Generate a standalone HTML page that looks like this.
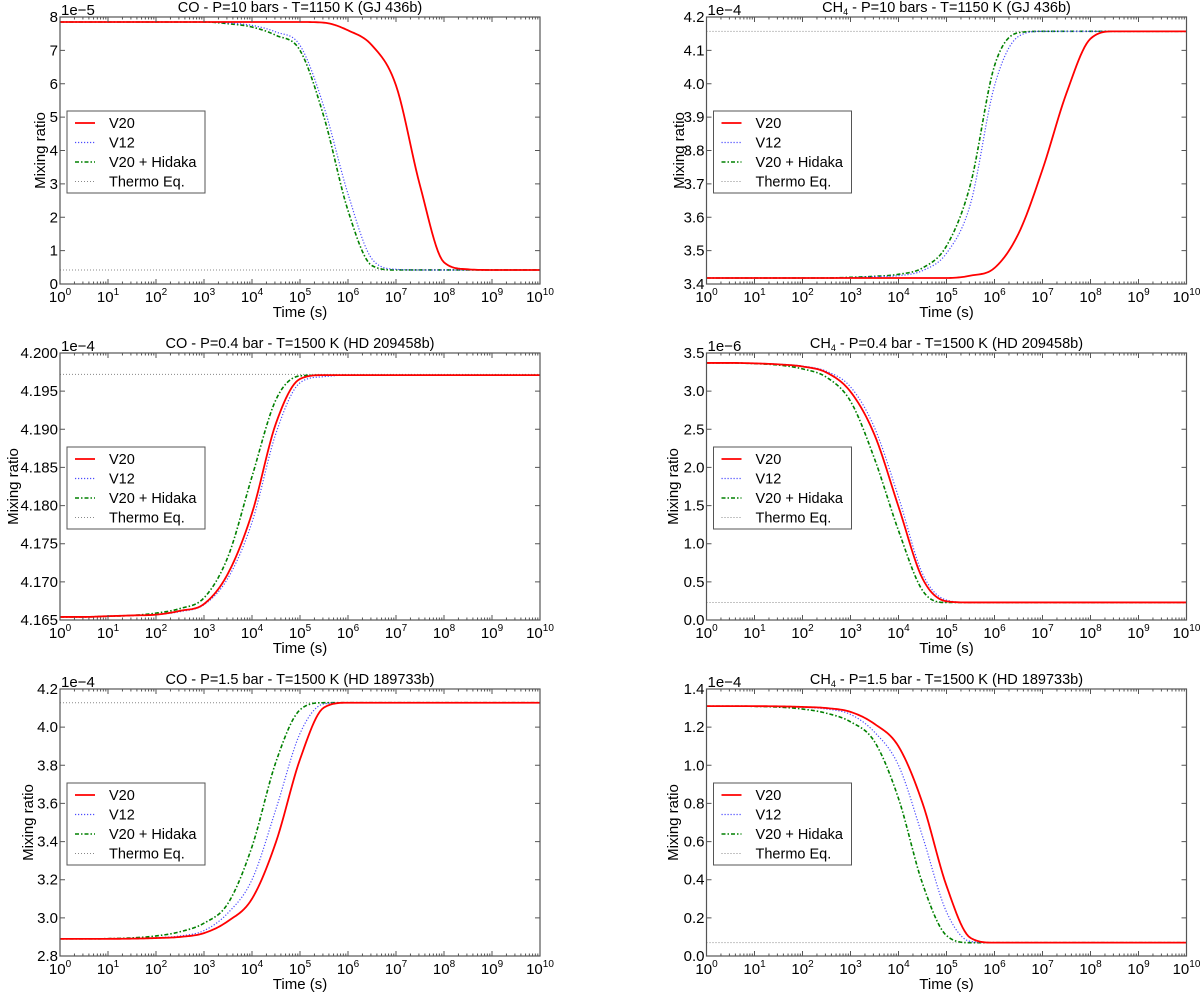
<!DOCTYPE html>
<html><head><meta charset="utf-8">
<style>
html,body{margin:0;padding:0;background:#fff;}
svg{display:block;font-family:"Liberation Sans",sans-serif;}
</style></head>
<body>
<svg id="fig" width="1200" height="992" viewBox="0 0 1200 992" xmlns="http://www.w3.org/2000/svg"></svg>
<script>
// ---- shared x data (log10 time, s) ----
const logTime = [0,0.5,1,1.5,2,2.5,3,3.5,4,4.5,5,5.5,6,6.5,7,7.5,8,8.5,9,9.5,10];
const xTickLabels = ["0","1","2","3","4","5","6","7","8","9","10"];

// ---- panel 1: CO 10 bar (1e-5) ----
const p1V20 = [7.85,7.85,7.85,7.85,7.85,7.85,7.85,7.85,7.85,7.85,7.85,7.83,7.6,7.15,5.95,2.95,0.65,0.44,0.42,0.42,0.42];
const p1V12 = [7.85,7.85,7.85,7.85,7.85,7.85,7.85,7.82,7.75,7.55,7.15,5.3,2.7,0.75,0.44,0.42,0.42,0.42,0.42,0.42,0.42];
const p1Hid = [7.85,7.85,7.85,7.85,7.85,7.85,7.85,7.8,7.7,7.45,7.0,5.0,2.2,0.55,0.42,0.42,0.42,0.42,0.42,0.42,0.42];
const p1Thermo = 0.42;
const p1YTicks = ["0","1","2","3","4","5","6","7","8"];

// ---- panel 2: CH4 10 bar (1e-4) ----
const p2V20 = [3.418,3.418,3.418,3.418,3.418,3.418,3.418,3.418,3.418,3.418,3.418,3.425,3.448,3.551,3.743,3.972,4.135,4.157,4.157,4.157,4.157];
const p2V12 = [3.418,3.418,3.418,3.418,3.418,3.418,3.419,3.422,3.425,3.440,3.492,3.640,3.994,4.142,4.157,4.157,4.157,4.157,4.157,4.157,4.157];
const p2Hid = [3.418,3.418,3.418,3.418,3.418,3.418,3.420,3.423,3.429,3.448,3.514,3.699,4.054,4.153,4.157,4.157,4.157,4.157,4.157,4.157,4.157];
const p2Thermo = 4.157;
const p2YTicks = ["3.4","3.5","3.6","3.7","3.8","3.9","4.0","4.1","4.2"];

// ---- panel 3: CO 0.4 bar (1e-4) ----
const p3V20 = [4.1654,4.1654,4.1655,4.1656,4.1657,4.1662,4.1671,4.1711,4.1790,4.1908,4.1966,4.1971,4.1971,4.1971,4.1971,4.1971,4.1971,4.1971,4.1971,4.1971,4.1971];
const p3V12 = [4.1654,4.1654,4.1655,4.1656,4.1657,4.1661,4.1670,4.1705,4.1778,4.1895,4.1961,4.1969,4.1971,4.1971,4.1971,4.1971,4.1971,4.1971,4.1971,4.1971,4.1971];
const p3Hid = [4.1654,4.1654,4.1655,4.1656,4.1659,4.1665,4.1679,4.1733,4.1838,4.1939,4.1970,4.1971,4.1971,4.1971,4.1971,4.1971,4.1971,4.1971,4.1971,4.1971,4.1971];
const p3Thermo = 4.1972;
const p3YTicks = ["4.165","4.170","4.175","4.180","4.185","4.190","4.195","4.200"];

// ---- panel 4: CH4 0.4 bar (1e-6) ----
const p4V20 = [3.37,3.37,3.364,3.351,3.323,3.244,2.993,2.428,1.486,0.544,0.246,0.23,0.23,0.23,0.23,0.23,0.23,0.23,0.23,0.23,0.23];
const p4V12 = [3.37,3.37,3.364,3.354,3.329,3.260,3.056,2.522,1.612,0.607,0.261,0.23,0.23,0.23,0.23,0.23,0.23,0.23,0.23,0.23,0.23];
const p4Hid = [3.37,3.37,3.361,3.342,3.292,3.182,2.868,2.114,1.172,0.387,0.23,0.23,0.23,0.23,0.23,0.23,0.23,0.23,0.23,0.23,0.23];
const p4Thermo = 0.23;
const p4YTicks = ["0.0","0.5","1.0","1.5","2.0","2.5","3.0","3.5"];

// ---- panel 5: CO 1.5 bar (1e-4) ----
const p5V20 = [2.89,2.89,2.89,2.891,2.894,2.900,2.920,2.983,3.100,3.398,3.831,4.103,4.128,4.128,4.128,4.128,4.128,4.128,4.128,4.128,4.128];
const p5V12 = [2.89,2.89,2.89,2.892,2.896,2.905,2.933,3.026,3.200,3.571,3.967,4.122,4.128,4.128,4.128,4.128,4.128,4.128,4.128,4.128,4.128];
const p5Hid = [2.89,2.89,2.891,2.895,2.905,2.927,2.972,3.076,3.373,3.819,4.091,4.128,4.128,4.128,4.128,4.128,4.128,4.128,4.128,4.128,4.128];
const p5Thermo = 4.128;
const p5YTicks = ["2.8","3.0","3.2","3.4","3.6","3.8","4.0","4.2"];

// ---- panel 6: CH4 1.5 bar (1e-4) ----
const p6V20 = [1.31,1.31,1.31,1.309,1.306,1.300,1.280,1.217,1.099,0.802,0.368,0.095,0.07,0.07,0.07,0.07,0.07,0.07,0.07,0.07,0.07];
const p6V12 = [1.31,1.31,1.31,1.308,1.304,1.295,1.267,1.174,1.000,0.628,0.231,0.076,0.07,0.07,0.07,0.07,0.07,0.07,0.07,0.07,0.07];
const p6Hid = [1.31,1.31,1.309,1.305,1.295,1.273,1.228,1.124,0.826,0.38,0.107,0.07,0.07,0.07,0.07,0.07,0.07,0.07,0.07,0.07,0.07];
const p6Thermo = 0.07;
const p6YTicks = ["0.0","0.2","0.4","0.6","0.8","1.0","1.2","1.4"];

const NS = "http://www.w3.org/2000/svg";
const svg = document.getElementById('fig');
function mk(tag, parent){ const e=document.createElementNS(NS,tag); parent.appendChild(e); return e; }

const panels = [
  {id:'co-10bar', species:'CO', rest:' - P=10 bars - T=1150 K (GJ 436b)', left:60, top:17, ymin:0, ymax:8, ticks:p1YTicks, off:'1e\u22125', v20:p1V20, v12:p1V12, hid:p1Hid, th:p1Thermo, ylabX:40},
  {id:'ch4-10bar', species:'CH', sub:'4', rest:' - P=10 bars - T=1150 K (GJ 436b)', left:706.5, top:17, ymin:3.4, ymax:4.2, ticks:p2YTicks, off:'1e\u22124', v20:p2V20, v12:p2V12, hid:p2Hid, th:p2Thermo, ylabX:679},
  {id:'co-0.4bar', species:'CO', rest:' - P=0.4 bar - T=1500 K (HD 209458b)', left:60, top:353, ymin:4.165, ymax:4.200, ticks:p3YTicks, off:'1e\u22124', v20:p3V20, v12:p3V12, hid:p3Hid, th:p3Thermo, ylabX:13},
  {id:'ch4-0.4bar', species:'CH', sub:'4', rest:' - P=0.4 bar - T=1500 K (HD 209458b)', left:706.5, top:353, ymin:0, ymax:3.5, ticks:p4YTicks, off:'1e\u22126', v20:p4V20, v12:p4V12, hid:p4Hid, th:p4Thermo, ylabX:673},
  {id:'co-1.5bar', species:'CO', rest:' - P=1.5 bar - T=1500 K (HD 189733b)', left:60, top:689, ymin:2.8, ymax:4.2, ticks:p5YTicks, off:'1e\u22124', v20:p5V20, v12:p5V12, hid:p5Hid, th:p5Thermo, ylabX:28},
  {id:'ch4-1.5bar', species:'CH', sub:'4', rest:' - P=1.5 bar - T=1500 K (HD 189733b)', left:706.5, top:689, ymin:0, ymax:1.4, ticks:p6YTicks, off:'1e\u22124', v20:p6V20, v12:p6V12, hid:p6Hid, th:p6Thermo, ylabX:673}
];
const W = 480, H = 267;
const series = [
  {key:'v20', label:'V20', color:'#ff0000', width:1.8, dash:null},
  {key:'v12', label:'V12', color:'#4a4aff', width:1.2, dash:'1.2,1.8'},
  {key:'hid', label:'V20 + Hidaka', color:'#008000', width:1.6, dash:'4,2,1.5,2'},
  {key:'th', label:'Thermo Eq.', color:'#888888', width:1, dash:'1,2'}
];

function monotone(xs, ys){
  const n=xs.length, d=[], m=new Array(n).fill(0);
  for(let i=0;i<n-1;i++) d.push((ys[i+1]-ys[i])/(xs[i+1]-xs[i]));
  m[0]=d[0]; m[n-1]=d[n-2];
  for(let i=1;i<n-1;i++){ m[i] = (d[i-1]*d[i]<=0)?0:(d[i-1]+d[i])/2; }
  for(let i=0;i<n-1;i++){
    if(d[i]===0){m[i]=0;m[i+1]=0;continue;}
    const a=m[i]/d[i], b=m[i+1]/d[i], s=a*a+b*b;
    if(s>9){const t=3/Math.sqrt(s); m[i]=t*a*d[i]; m[i+1]=t*b*d[i];}
  }
  const out=[];
  for(let i=0;i<n-1;i++){
    const h=xs[i+1]-xs[i];
    for(let k=0;k<12;k++){
      const t=k/12, t2=t*t, t3=t2*t;
      const y=(2*t3-3*t2+1)*ys[i]+(t3-2*t2+t)*h*m[i]+(-2*t3+3*t2)*ys[i+1]+(t3-t2)*h*m[i+1];
      out.push([xs[i]+t*h,y]);
    }
  }
  out.push([xs[n-1],ys[n-1]]);
  return out;
}

panels.forEach((p,pi)=>{
  const g = mk('g', svg);
  
  
  const L=p.left, T=p.top, B=T+H, R=L+W;
  const xs = v => L + (v-0)/10*W;
  const ys = v => B - (v-p.ymin)/(p.ymax-p.ymin)*H;

  // clip
  const cp = mk('clipPath', g); cp.setAttribute('id','clip'+pi);
  const cr = mk('rect', cp); cr.setAttribute('x',L); cr.setAttribute('y',T); cr.setAttribute('width',W); cr.setAttribute('height',H);

  // thermo line
  const thl = mk('line', g);
  
  
  thl.setAttribute('x1',L); thl.setAttribute('x2',R); thl.setAttribute('y1',ys(p.th)); thl.setAttribute('y2',ys(p.th));
  thl.setAttribute('stroke','#888'); thl.setAttribute('stroke-width','1'); thl.setAttribute('stroke-dasharray','1,2');

  // curves
  series.slice(0,3).slice().reverse().forEach(s=>{
    const pts = monotone(logTime, p[s.key]);
    const path = mk('path', g);
    
    
    path.setAttribute('d', pts.map((q,i)=>(i?'L':'M')+xs(q[0]).toFixed(2)+','+ys(q[1]).toFixed(2)).join(''));
    path.setAttribute('fill','none'); path.setAttribute('stroke',s.color); path.setAttribute('stroke-width',s.width);
    if(s.dash) path.setAttribute('stroke-dasharray',s.dash);
    path.setAttribute('clip-path','url(#clip'+pi+')');
  });

  // ticks
  const tk = mk('g', g);
  
  
  let d='';
  for(let dec=0; dec<=10; dec++){
    const x=xs(dec);
    d+=`M${x},${B}v-5M${x},${T}v5`;
    if(dec<10) for(let k=2;k<10;k++){ const xm=xs(dec+Math.log10(k)); d+=`M${xm},${B}v-2.5M${xm},${T}v2.5`; }
  }
  p.ticks.forEach((t,i)=>{ const y=ys(parseFloat(t)); d+=`M${L},${y}h5M${R},${y}h-5`; });
  const tp = mk('path', tk); tp.setAttribute('d',d); tp.setAttribute('stroke','#555'); tp.setAttribute('stroke-width','1'); tp.setAttribute('fill','none');

  // frame
  const fr = mk('rect', g);
  
  
  fr.setAttribute('x',L); fr.setAttribute('y',T); fr.setAttribute('width',W); fr.setAttribute('height',H);
  fr.setAttribute('fill','none'); fr.setAttribute('stroke','#555'); fr.setAttribute('stroke-width','1.2');

  // x tick labels
  xTickLabels.forEach((lab,i)=>{
    const t = mk('text', g);
    
    
    t.setAttribute('x', xs(i)); t.setAttribute('y', B+18); t.setAttribute('font-size','15'); t.setAttribute('text-anchor','middle');
    t.textContent='10';
    const sp = mk('tspan', t); sp.setAttribute('dy','-7'); sp.setAttribute('font-size','10'); sp.textContent=lab;
  });
  // y tick labels
  p.ticks.forEach(lab=>{
    const t = mk('text', g);
    
    
    t.setAttribute('x', L-2); t.setAttribute('y', ys(parseFloat(lab))+5); t.setAttribute('font-size','15'); t.setAttribute('text-anchor','end');
    t.textContent=lab;
  });
  // offset text
  const ot = mk('text', g);
  
  
  ot.setAttribute('x', L+1); ot.setAttribute('y', T-2); ot.setAttribute('font-size','15'); ot.textContent=p.off;
  // title
  const tt = mk('text', g);
  
  
  tt.setAttribute('x', L+W/2); tt.setAttribute('y', T-5); tt.setAttribute('font-size','14.5'); tt.setAttribute('text-anchor','middle');
  const t1 = mk('tspan', tt); t1.textContent=p.species;
  if(p.sub){ const t2=mk('tspan',tt); t2.setAttribute('font-size','9'); t2.setAttribute('dy','3'); t2.textContent=p.sub; const t3=mk('tspan',tt); t3.setAttribute('dy','-3'); t3.textContent=p.rest; }
  else { const t3=mk('tspan',tt); t3.textContent=p.rest; }
  // axis labels
  const xl = mk('text', g);
  
  
  xl.setAttribute('x', L+W/2); xl.setAttribute('y', B+33); xl.setAttribute('font-size','15'); xl.setAttribute('text-anchor','middle'); xl.textContent='Time (s)';
  const yl = mk('text', g);
  
  
  yl.setAttribute('transform', `translate(${p.ylabX},${T+H/2}) rotate(-90)`); yl.setAttribute('font-size','15'); yl.setAttribute('text-anchor','middle'); yl.setAttribute('dy','5'); yl.textContent='Mixing ratio';

  // legend
  const lg = mk('g', g);
  
  
  const lx=L+7, ly=T+94;
  const lb = mk('rect', lg); lb.setAttribute('x',lx); lb.setAttribute('y',ly); lb.setAttribute('width',138); lb.setAttribute('height',82);
  lb.setAttribute('fill','#fff'); lb.setAttribute('stroke','#555'); lb.setAttribute('stroke-width','1');
  series.forEach((s,i)=>{
    const e = mk('g', lg);
    
    
    const yy = ly+12+i*19.5;
    const ln = mk('line', e); ln.setAttribute('x1',lx+8); ln.setAttribute('x2',lx+28); ln.setAttribute('y1',yy); ln.setAttribute('y2',yy);
    ln.setAttribute('stroke',s.color); ln.setAttribute('stroke-width',s.width); if(s.dash) ln.setAttribute('stroke-dasharray',s.dash);
    const tx = mk('text', e); tx.setAttribute('x',lx+42); tx.setAttribute('y',yy+5); tx.setAttribute('font-size','14.5'); tx.textContent=s.label;
  });
});
</script>
</body></html>
